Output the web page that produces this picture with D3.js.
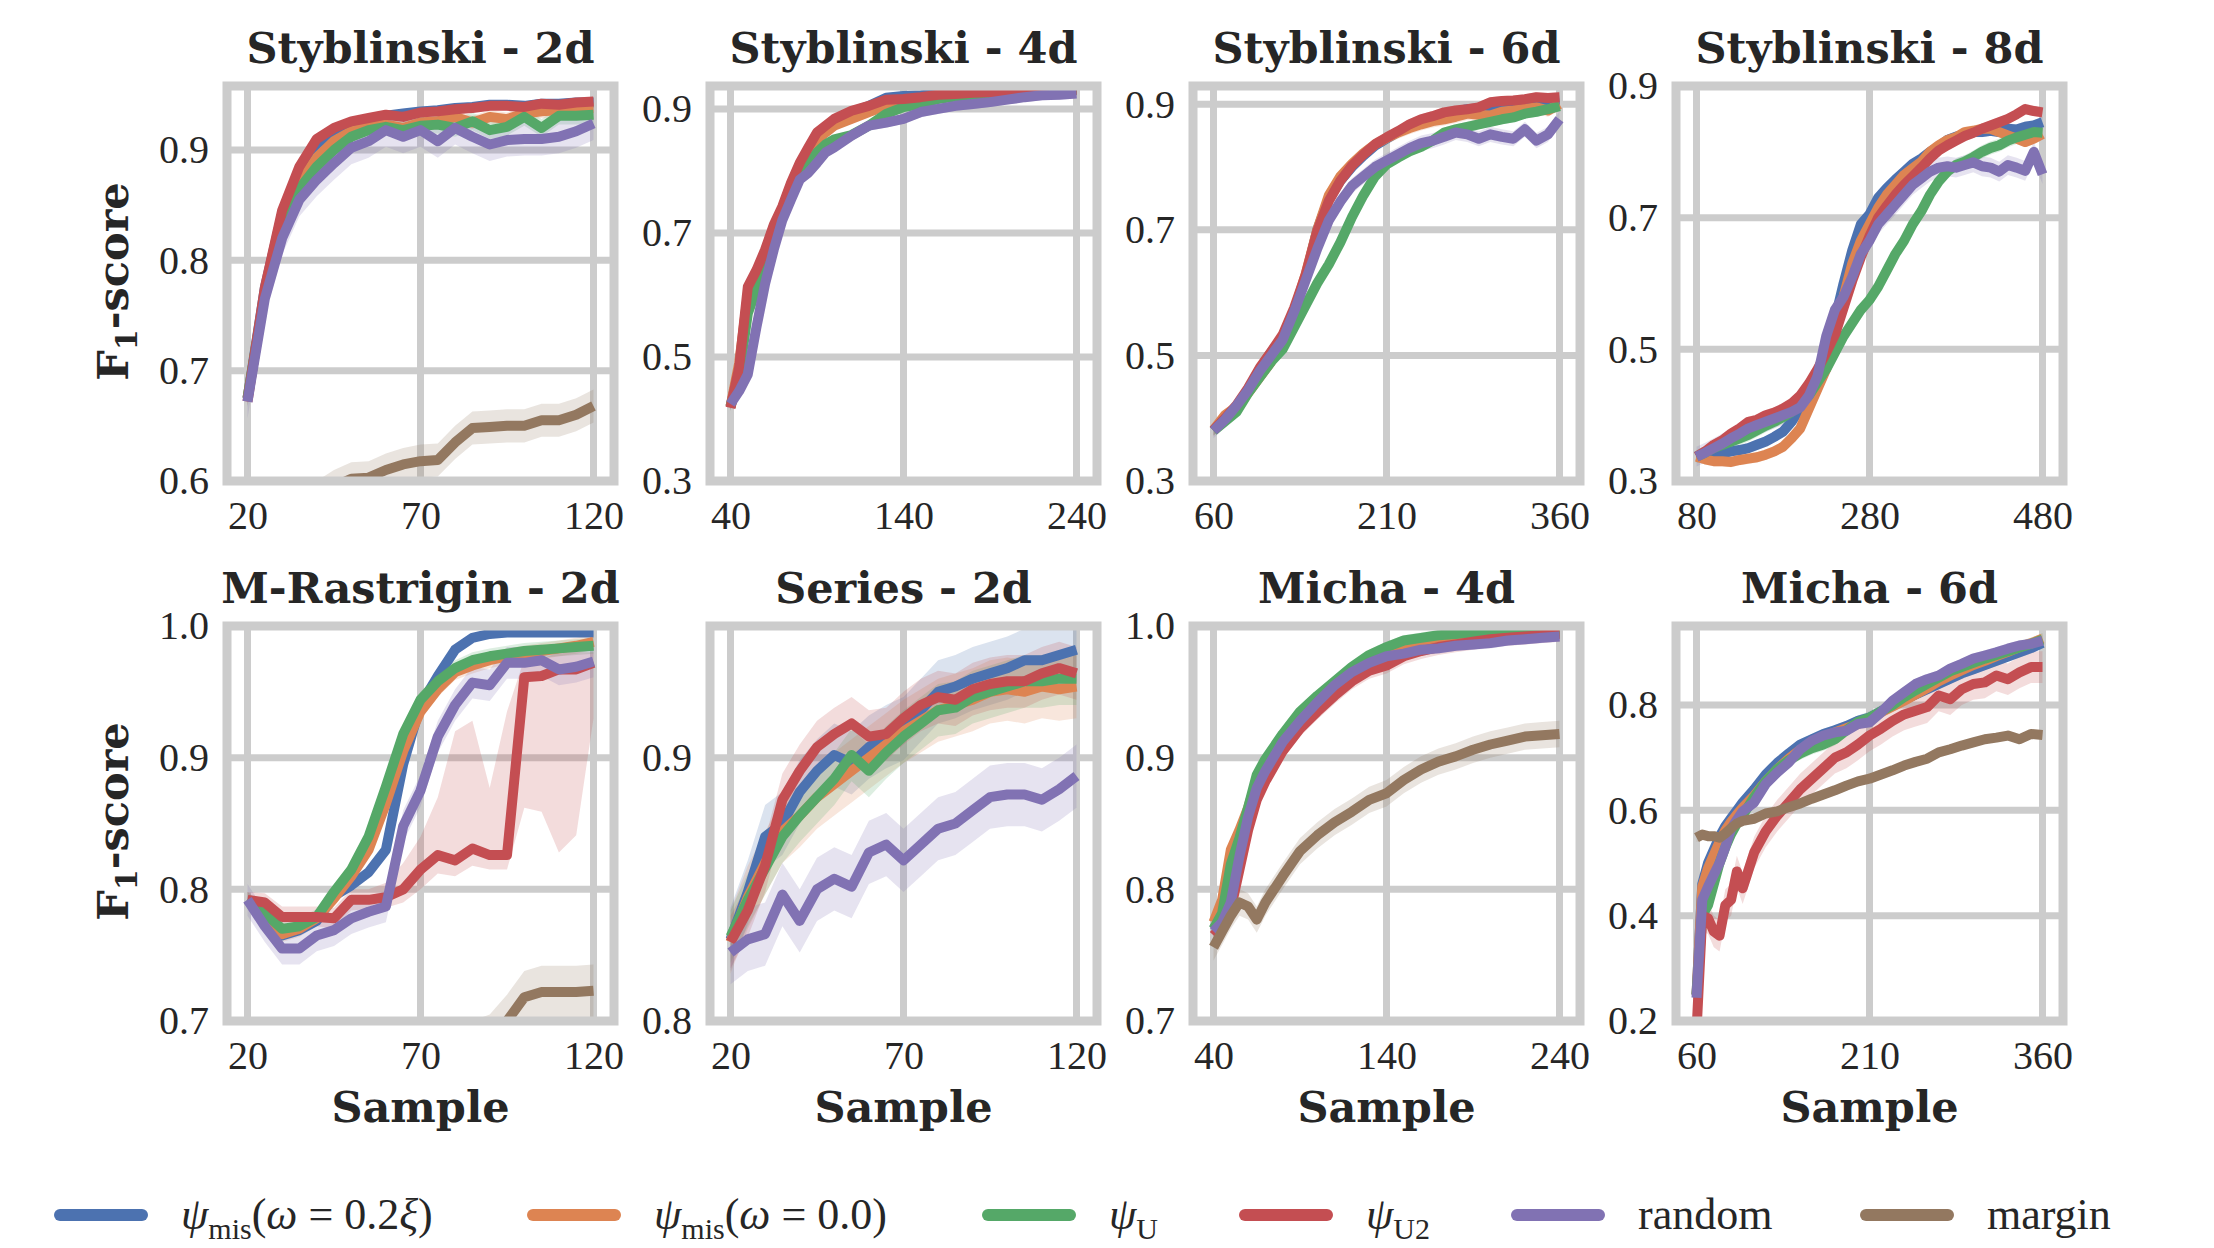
<!DOCTYPE html>
<html lang="en">
<head>
<meta charset="utf-8">
<title>F1-score vs sample</title>
<script src="https://cdn.jsdelivr.net/npm/d3@7"></script>
<style>
  body { margin: 0; background: #fff; }
  text { fill: #262626; }
</style>
</head>
<body>
<script>
// ---- data ----
var methods = ["psi_mis_02", "psi_mis_00", "psi_U", "psi_U2", "random", "margin"];
var colors  = ["#4c72b0", "#dd8452", "#55a868", "#c44e52", "#8172b3", "#937860"];

// Styblinski - 2d
var sty2_x = [20,25,30,35,40,45,50,55,60,65,70,75,80,85,90,95,100,105,110,115,120];
var sty2_blue   = [0.675,0.775,0.842,0.882,0.905,0.918,0.924,0.928,0.931,0.933,0.935,0.936,0.938,0.939,0.941,0.941,0.940,0.942,0.942,0.943,0.943];
var sty2_orange = [0.675,0.770,0.835,0.870,0.893,0.908,0.917,0.921,0.923,0.920,0.925,0.926,0.930,0.925,0.930,0.928,0.933,0.935,0.936,0.938,0.938];
var sty2_green  = [0.675,0.770,0.830,0.865,0.885,0.900,0.912,0.918,0.921,0.918,0.922,0.923,0.920,0.926,0.918,0.921,0.930,0.920,0.931,0.931,0.932];
var sty2_red    = [0.672,0.775,0.845,0.885,0.910,0.920,0.926,0.929,0.932,0.930,0.934,0.935,0.937,0.938,0.940,0.940,0.939,0.942,0.941,0.943,0.944];
var sty2_purple = [0.672,0.765,0.820,0.855,0.873,0.888,0.902,0.908,0.918,0.912,0.918,0.908,0.920,0.912,0.905,0.909,0.910,0.910,0.912,0.917,0.924];
var sty2_margin = [0.520,0.540,0.560,0.575,0.585,0.595,0.602,0.603,0.610,0.615,0.618,0.619,0.635,0.648,0.649,0.650,0.650,0.655,0.655,0.660,0.668];
var sty2_spread = [0.004,0.006,0.008,0.004,0.015,0.015];

// Styblinski - 4d
var sty4_x = [40,45,50,55,60,65,70,75,80,85,90,95,100,110,120,130,140,150,160,170,180,190,200,210,220,230,240];
var sty4_blue   = [0.420,0.480,0.600,0.635,0.670,0.710,0.740,0.778,0.810,0.835,0.860,0.870,0.882,0.895,0.905,0.918,0.921,0.922,0.924,0.926,0.927,0.928,0.929,0.930,0.930,0.931,0.931];
var sty4_orange = [0.420,0.490,0.600,0.630,0.665,0.705,0.735,0.770,0.800,0.825,0.850,0.862,0.873,0.884,0.895,0.905,0.911,0.915,0.920,0.923,0.925,0.927,0.928,0.929,0.930,0.930,0.931];
var sty4_green  = [0.420,0.470,0.570,0.610,0.650,0.690,0.725,0.760,0.790,0.810,0.830,0.843,0.851,0.858,0.873,0.892,0.903,0.908,0.916,0.920,0.923,0.925,0.927,0.928,0.929,0.930,0.930];
var sty4_red    = [0.418,0.483,0.613,0.640,0.673,0.713,0.743,0.781,0.813,0.838,0.862,0.873,0.884,0.897,0.905,0.915,0.916,0.919,0.923,0.924,0.926,0.927,0.928,0.929,0.930,0.930,0.931];
var sty4_purple = [0.424,0.445,0.472,0.548,0.618,0.673,0.721,0.754,0.786,0.797,0.813,0.830,0.838,0.857,0.873,0.878,0.884,0.895,0.900,0.905,0.908,0.911,0.915,0.919,0.922,0.923,0.925];
var sty4_spread = [0.005,0.006,0.007,0.005,0.008,0];

// Styblinski - 6d
var sty6_x = [60,70,80,90,100,110,120,130,140,150,160,170,180,190,200,210,220,230,240,250,260,270,280,290,300,310,320,330,340,350,360];
var sty6_blue   = [0.381,0.398,0.418,0.445,0.478,0.505,0.530,0.572,0.625,0.700,0.750,0.778,0.800,0.818,0.834,0.845,0.856,0.865,0.872,0.878,0.884,0.888,0.892,0.893,0.897,0.900,0.902,0.903,0.905,0.904,0.906];
var sty6_orange = [0.381,0.405,0.418,0.440,0.465,0.490,0.525,0.570,0.630,0.700,0.755,0.785,0.805,0.822,0.836,0.846,0.855,0.862,0.868,0.873,0.876,0.880,0.885,0.883,0.882,0.888,0.890,0.893,0.895,0.890,0.900];
var sty6_green  = [0.380,0.395,0.410,0.440,0.465,0.490,0.510,0.545,0.580,0.615,0.645,0.680,0.720,0.755,0.785,0.804,0.815,0.825,0.832,0.842,0.855,0.860,0.864,0.868,0.872,0.876,0.879,0.885,0.888,0.892,0.897];
var sty6_red    = [0.381,0.400,0.421,0.448,0.480,0.506,0.533,0.576,0.629,0.698,0.746,0.778,0.802,0.820,0.836,0.847,0.857,0.868,0.876,0.881,0.887,0.890,0.892,0.895,0.903,0.905,0.906,0.908,0.911,0.910,0.911];
var sty6_purple = [0.380,0.398,0.420,0.445,0.475,0.500,0.525,0.570,0.620,0.670,0.715,0.745,0.770,0.785,0.800,0.810,0.820,0.830,0.838,0.842,0.848,0.855,0.852,0.845,0.852,0.848,0.845,0.860,0.842,0.852,0.876];
var sty6_spread = [0.008,0.010,0.008,0.008,0.012,0];

// Styblinski - 8d
var sty8_x = [80,90,100,110,120,130,140,150,160,170,180,190,200,210,220,230,240,250,260,270,280,290,300,310,320,330,340,350,360,370,380,390,400,410,420,430,440,450,460,470,480];
var sty8_blue   = [0.337,0.338,0.340,0.342,0.345,0.347,0.350,0.355,0.360,0.367,0.375,0.390,0.410,0.430,0.460,0.500,0.545,0.600,0.650,0.690,0.705,0.730,0.745,0.758,0.770,0.782,0.790,0.800,0.808,0.818,0.823,0.826,0.830,0.830,0.832,0.830,0.835,0.834,0.838,0.840,0.845];
var sty8_orange = [0.337,0.333,0.330,0.330,0.329,0.332,0.334,0.336,0.340,0.345,0.352,0.365,0.380,0.410,0.440,0.470,0.530,0.580,0.630,0.665,0.690,0.715,0.735,0.750,0.765,0.775,0.785,0.800,0.810,0.818,0.822,0.830,0.832,0.835,0.835,0.830,0.825,0.820,0.815,0.820,0.827];
var sty8_green  = [0.337,0.343,0.350,0.355,0.360,0.365,0.370,0.377,0.384,0.390,0.397,0.405,0.415,0.430,0.450,0.470,0.495,0.520,0.540,0.560,0.575,0.595,0.620,0.645,0.665,0.690,0.710,0.735,0.755,0.770,0.780,0.785,0.792,0.800,0.806,0.810,0.817,0.822,0.826,0.830,0.829];
var sty8_red    = [0.337,0.345,0.355,0.362,0.372,0.380,0.390,0.393,0.400,0.404,0.410,0.418,0.430,0.448,0.470,0.495,0.522,0.563,0.604,0.640,0.672,0.700,0.718,0.735,0.750,0.763,0.776,0.790,0.802,0.810,0.817,0.824,0.829,0.835,0.840,0.845,0.850,0.857,0.865,0.862,0.860];
var sty8_purple = [0.337,0.343,0.350,0.357,0.365,0.372,0.380,0.385,0.390,0.395,0.400,0.405,0.412,0.430,0.460,0.520,0.560,0.580,0.610,0.645,0.665,0.690,0.705,0.720,0.735,0.750,0.760,0.770,0.776,0.778,0.776,0.780,0.784,0.778,0.776,0.770,0.780,0.776,0.771,0.800,0.766];
var sty8_spread = [0.008,0.008,0.010,0.008,0.015,0];

// M-Rastrigin - 2d
var mras_x = [20,25,30,35,40,45,50,55,60,65,70,75,80,85,90,95,100,105,110,115,120];
var mras_blue   = [0.792,0.780,0.765,0.769,0.776,0.795,0.803,0.813,0.830,0.895,0.940,0.962,0.982,0.991,0.994,0.995,0.995,0.995,0.995,0.995,0.995];
var mras_orange = [0.792,0.781,0.766,0.770,0.778,0.793,0.810,0.830,0.865,0.905,0.935,0.952,0.965,0.970,0.974,0.977,0.979,0.981,0.983,0.985,0.988];
var mras_green  = [0.792,0.782,0.770,0.772,0.779,0.798,0.815,0.840,0.878,0.918,0.944,0.958,0.968,0.974,0.977,0.979,0.981,0.982,0.983,0.984,0.985];
var mras_red    = [0.792,0.790,0.779,0.779,0.779,0.778,0.792,0.792,0.794,0.800,0.815,0.826,0.822,0.831,0.826,0.826,0.961,0.962,0.967,0.967,0.972];
var mras_purple = [0.792,0.772,0.755,0.755,0.765,0.769,0.778,0.783,0.787,0.848,0.875,0.916,0.940,0.957,0.955,0.972,0.972,0.974,0.967,0.969,0.973];
var mras_margin = [0.580,0.590,0.600,0.610,0.620,0.630,0.640,0.645,0.650,0.660,0.665,0.670,0.675,0.680,0.685,0.700,0.718,0.722,0.722,0.722,0.723];
var mras_spread = [0.003,0.006,0.006,0.006,0.012,0.020];
var mras_red_lo = [0.786,0.783,0.772,0.772,0.772,0.770,0.784,0.785,0.786,0.790,0.800,0.812,0.810,0.818,0.815,0.815,0.862,0.859,0.828,0.841,0.930];
var mras_red_hi = [0.798,0.797,0.787,0.787,0.787,0.786,0.800,0.800,0.805,0.820,0.840,0.870,0.920,0.928,0.877,0.935,0.975,0.975,0.980,0.980,0.980];

// Series - 2d
var ser_x = [20,25,30,35,40,45,50,55,60,65,70,75,80,85,90,95,100,105,110,115,120];
var ser_blue   = [0.831,0.849,0.870,0.875,0.887,0.895,0.901,0.898,0.904,0.908,0.911,0.918,0.925,0.927,0.930,0.932,0.934,0.937,0.937,0.939,0.941];
var ser_orange = [0.830,0.847,0.860,0.872,0.878,0.885,0.890,0.895,0.900,0.905,0.910,0.914,0.918,0.920,0.922,0.925,0.926,0.925,0.927,0.926,0.927];
var ser_green  = [0.832,0.846,0.858,0.870,0.878,0.885,0.892,0.901,0.895,0.902,0.908,0.913,0.918,0.919,0.923,0.925,0.927,0.929,0.929,0.930,0.930];
var ser_red    = [0.830,0.842,0.859,0.884,0.895,0.904,0.909,0.913,0.908,0.909,0.915,0.920,0.923,0.922,0.926,0.928,0.929,0.929,0.932,0.934,0.932];
var ser_purple = [0.826,0.831,0.833,0.848,0.838,0.850,0.854,0.851,0.864,0.867,0.861,0.867,0.873,0.875,0.880,0.885,0.886,0.886,0.884,0.888,0.893];
var ser_spread = [0.012,0.012,0.010,0.010,0.012,0];

// Micha - 4d
var mi4_x = [40,45,50,55,60,65,70,80,90,100,110,120,130,140,150,160,170,180,190,200,210,220,230,240];
var mi4_blue   = [0.770,0.778,0.800,0.830,0.855,0.880,0.895,0.915,0.932,0.945,0.957,0.967,0.976,0.982,0.987,0.990,0.992,0.993,0.994,0.994,0.995,0.995,0.995,0.995];
var mi4_orange = [0.775,0.792,0.830,0.845,0.862,0.883,0.895,0.915,0.932,0.945,0.957,0.967,0.975,0.981,0.985,0.988,0.990,0.991,0.992,0.993,0.994,0.994,0.995,0.995];
var mi4_green  = [0.770,0.782,0.819,0.839,0.862,0.887,0.899,0.918,0.935,0.947,0.958,0.969,0.978,0.984,0.989,0.991,0.993,0.994,0.995,0.995,0.995,0.995,0.995,0.995];
var mi4_red    = [0.765,0.772,0.785,0.815,0.845,0.868,0.882,0.905,0.922,0.935,0.947,0.958,0.966,0.970,0.977,0.981,0.984,0.986,0.988,0.990,0.991,0.992,0.993,0.994];
var mi4_purple = [0.768,0.775,0.790,0.825,0.855,0.877,0.890,0.912,0.928,0.942,0.955,0.965,0.972,0.977,0.979,0.982,0.983,0.985,0.986,0.987,0.989,0.990,0.991,0.992];
var mi4_margin = [0.756,0.768,0.780,0.790,0.787,0.777,0.790,0.810,0.829,0.841,0.851,0.859,0.868,0.873,0.883,0.891,0.897,0.901,0.906,0.910,0.913,0.916,0.917,0.918];
var mi4_spread = [0.004,0.004,0.004,0.006,0.004,0.010];

// Micha - 6d
var mi6_x = [60,65,70,75,80,85,90,95,100,110,120,130,140,150,160,170,180,190,200,210,220,230,240,250,260,270,280,290,300,310,320,330,340,350,360];
var mi6_blue   = [0.250,0.460,0.500,0.525,0.550,0.570,0.585,0.600,0.615,0.640,0.668,0.690,0.708,0.725,0.735,0.745,0.752,0.760,0.770,0.776,0.788,0.800,0.810,0.820,0.830,0.840,0.850,0.860,0.868,0.876,0.884,0.892,0.900,0.908,0.918];
var mi6_orange = [0.250,0.455,0.490,0.515,0.540,0.562,0.578,0.592,0.605,0.628,0.655,0.678,0.698,0.715,0.728,0.740,0.748,0.756,0.764,0.773,0.786,0.797,0.808,0.820,0.832,0.845,0.856,0.866,0.876,0.884,0.893,0.901,0.910,0.917,0.926];
var mi6_green  = [0.250,0.400,0.420,0.460,0.500,0.530,0.555,0.575,0.590,0.625,0.655,0.678,0.695,0.708,0.718,0.725,0.735,0.752,0.768,0.776,0.788,0.800,0.815,0.828,0.840,0.852,0.864,0.872,0.880,0.888,0.895,0.902,0.909,0.916,0.924];
var mi6_red    = [0.180,0.400,0.395,0.370,0.362,0.420,0.430,0.484,0.452,0.520,0.560,0.590,0.615,0.640,0.660,0.680,0.700,0.710,0.725,0.742,0.755,0.770,0.782,0.789,0.796,0.818,0.811,0.830,0.840,0.843,0.856,0.849,0.862,0.872,0.872];
var mi6_purple = [0.244,0.430,0.455,0.478,0.500,0.530,0.565,0.582,0.598,0.615,0.650,0.672,0.691,0.716,0.732,0.742,0.748,0.751,0.764,0.767,0.786,0.808,0.824,0.840,0.849,0.856,0.869,0.878,0.888,0.894,0.900,0.907,0.913,0.916,0.922];
var mi6_margin = [0.548,0.554,0.551,0.551,0.548,0.556,0.566,0.575,0.580,0.584,0.594,0.598,0.606,0.613,0.622,0.630,0.638,0.647,0.655,0.660,0.668,0.676,0.685,0.692,0.698,0.710,0.716,0.723,0.729,0.735,0.738,0.742,0.735,0.745,0.743];
var mi6_spread = [0.010,0.010,0.012,0.030,0.010,0.008];

// panel titles and ticks
var titles = ["Styblinski - 2d", "Styblinski - 4d", "Styblinski - 6d", "Styblinski - 8d",
              "M-Rastrigin - 2d", "Series - 2d", "Micha - 4d", "Micha - 6d"];
var xTicks = [[20,70,120],[40,140,240],[60,210,360],[80,280,480],
              [20,70,120],[20,70,120],[40,140,240],[60,210,360]];
var yTicks = [[0.6,0.7,0.8,0.9],[0.3,0.5,0.7,0.9],[0.3,0.5,0.7,0.9],[0.3,0.5,0.7,0.9],
              [0.7,0.8,0.9,1.0],[0.8,0.9],[0.7,0.8,0.9,1.0],[0.2,0.4,0.6,0.8]];
var yLimits = [[0.6,0.958],[0.3,0.937],[0.3,0.929],[0.3,0.9],
               [0.7,1.0],[0.8,0.95],[0.7,1.0],[0.2,0.95]];

var panels = [
  {x: sty2_x, ys: [sty2_blue, sty2_orange, sty2_green, sty2_red, sty2_purple, sty2_margin], s: sty2_spread},
  {x: sty4_x, ys: [sty4_blue, sty4_orange, sty4_green, sty4_red, sty4_purple, null], s: sty4_spread},
  {x: sty6_x, ys: [sty6_blue, sty6_orange, sty6_green, sty6_red, sty6_purple, null], s: sty6_spread},
  {x: sty8_x, ys: [sty8_blue, sty8_orange, sty8_green, sty8_red, sty8_purple, null], s: sty8_spread},
  {x: mras_x, ys: [mras_blue, mras_orange, mras_green, mras_red, mras_purple, mras_margin], s: mras_spread,
   bands: {3: [mras_red_lo, mras_red_hi]}},
  {x: ser_x, ys: [ser_blue, ser_orange, ser_green, ser_red, ser_purple, null], s: ser_spread},
  {x: mi4_x, ys: [mi4_blue, mi4_orange, mi4_green, mi4_red, mi4_purple, mi4_margin], s: mi4_spread},
  {x: mi6_x, ys: [mi6_blue, mi6_orange, mi6_green, mi6_red, mi6_purple, mi6_margin], s: mi6_spread}
];

// ---- layout ----
var width = 2214, height = 1248;
var left0 = 227, colStep = 483, top0 = 86, rowStep = 540;
var W = 387, H = 395, xPad = 20.5;
var grid = "#cccccc";
var serif = "'Liberation Serif', 'DejaVu Serif', serif";
var boldSerif = "'DejaVu Serif', serif";

var svg = d3.select("body").append("svg")
    .attr("width", width)
    .attr("height", height)
    .attr("viewBox", [0, 0, width, height]);

panels.forEach(function(p, k) {
  var row = Math.floor(k / 4), col = k % 4;
  var left = left0 + col * colStep, top = top0 + row * rowStep;

  var x = d3.scaleLinear().domain(d3.extent(p.x)).range([xPad, W - xPad]);
  var y = d3.scaleLinear().domain(yLimits[k]).range([H, 0]);

  var g = svg.append("g").attr("transform", `translate(${left},${top})`);

  g.append("clipPath").attr("id", "clip" + k)
    .append("rect").attr("width", W).attr("height", H);

  // grid
  g.append("g").selectAll("line").data(xTicks[k]).join("line")
    .attr("x1", d => x(d)).attr("x2", d => x(d))
    .attr("y1", 0).attr("y2", H)
    .attr("stroke", grid).attr("stroke-width", 7);
  g.append("g").selectAll("line").data(yTicks[k]).join("line")
    .attr("x1", 0).attr("x2", W)
    .attr("y1", d => y(d)).attr("y2", d => y(d))
    .attr("stroke", grid).attr("stroke-width", 7);

  var plot = g.append("g").attr("clip-path", `url(#clip${k})`);

  // confidence bands
  p.ys.forEach(function(vals, j) {
    if (!vals) return;
    var lo, hi;
    if (p.bands && p.bands[j]) { lo = p.bands[j][0]; hi = p.bands[j][1]; }
    else { lo = vals.map(v => v - p.s[j]); hi = vals.map(v => v + p.s[j]); }
    var area = d3.area()
      .x((d, i) => x(p.x[i]))
      .y0((d, i) => y(lo[i]))
      .y1((d, i) => y(hi[i]));
    plot.append("path")
      .attr("d", area(vals))
      .attr("fill", colors[j])
      .attr("fill-opacity", 0.2);
  });

  // mean lines
  p.ys.forEach(function(vals, j) {
    if (!vals) return;
    var line = d3.line()
      .x((d, i) => x(p.x[i]))
      .y(d => y(d));
    plot.append("path")
      .attr("d", line(vals))
      .attr("fill", "none")
      .attr("stroke", colors[j])
      .attr("stroke-width", 10)
      .attr("stroke-linejoin", "round");
  });

  // frame
  g.append("rect")
    .attr("width", W).attr("height", H)
    .attr("fill", "none").attr("stroke", grid).attr("stroke-width", 9);

  // tick labels
  g.append("g")
    .call(d3.axisLeft(y).tickValues(yTicks[k]).tickFormat(d3.format(".1f")).tickSize(0).tickPadding(18))
    .call(a => a.select(".domain").remove())
    .selectAll("text")
    .attr("font-family", serif).attr("font-size", 40).attr("fill", "#262626");
  g.append("g")
    .attr("transform", `translate(0,${H})`)
    .call(d3.axisBottom(x).tickValues(xTicks[k]).tickFormat(d3.format("d")).tickSize(0).tickPadding(20))
    .call(a => a.select(".domain").remove())
    .selectAll("text")
    .attr("font-family", serif).attr("font-size", 40).attr("fill", "#262626");

  // title
  g.append("text")
    .attr("x", W / 2).attr("y", -23)
    .attr("text-anchor", "middle")
    .attr("font-family", boldSerif).attr("font-weight", "bold").attr("font-size", 43)
    .text(titles[k]);

  if (col === 0) {
    var yl = g.append("text")
      .attr("transform", `translate(${128 - left},${H / 2 - 2}) rotate(-90)`)
      .attr("text-anchor", "middle")
      .attr("font-family", boldSerif).attr("font-weight", "bold").attr("font-size", 43);
    yl.append("tspan").text("F");
    yl.append("tspan").attr("font-size", 30).attr("dy", 9).text("1");
    yl.append("tspan").attr("dy", -9).text("-score");
  }
  if (row === 1) {
    g.append("text")
      .attr("x", W / 2).attr("y", H + 101)
      .attr("text-anchor", "middle")
      .attr("font-family", boldSerif).attr("font-weight", "bold").attr("font-size", 43)
      .text("Sample");
  }
});

// ---- legend ----
var legendLabels = [
  [["ψ", "i"], ["mis", "s"], ["(", ""], ["ω", "i"], [" = 0.2", ""], ["ξ", "i"], [")", ""]],
  [["ψ", "i"], ["mis", "s"], ["(", ""], ["ω", "i"], [" = 0.0)", ""]],
  [["ψ", "i"], ["U", "s"]],
  [["ψ", "i"], ["U2", "s"]],
  [["random", ""]],
  [["margin", ""]]
];
var legendX = [54, 527, 982, 1239, 1511, 1860];
var legendY = 1215;

var lg = svg.append("g");
methods.forEach(function(m, j) {
  var x0 = legendX[j];
  lg.append("line")
    .attr("x1", x0 + 6).attr("x2", x0 + 88)
    .attr("y1", legendY).attr("y2", legendY)
    .attr("stroke", colors[j]).attr("stroke-width", 12)
    .attr("stroke-linecap", "round");
  var t = lg.append("text")
    .attr("x", x0 + 127).attr("y", legendY + 14)
    .attr("font-family", serif).attr("font-size", 44);
  var shifted = false;
  legendLabels[j].forEach(function(part) {
    var ts = t.append("tspan").text(part[0]);
    if (part[1] === "i") ts.attr("font-style", "italic");
    if (part[1] === "s") { ts.attr("font-size", 30).attr("dy", 10); shifted = true; }
    else if (shifted) { ts.attr("dy", -10); shifted = false; }
  });
});
</script>
</body>
</html>
